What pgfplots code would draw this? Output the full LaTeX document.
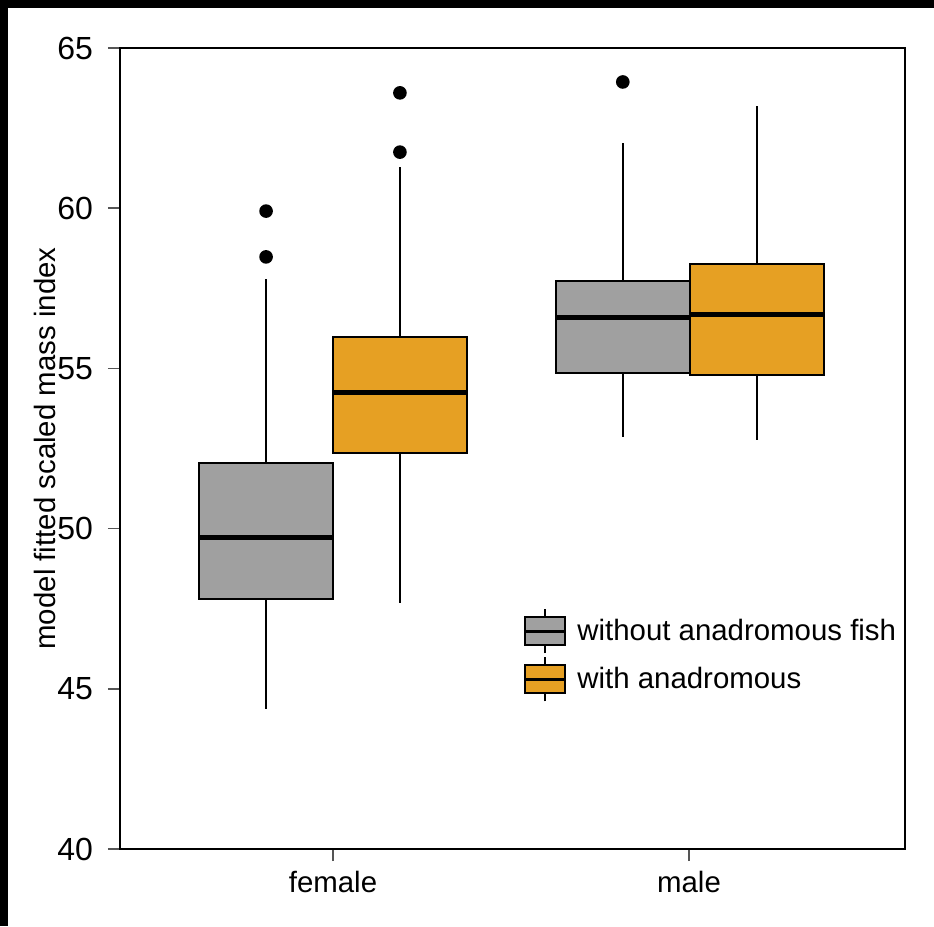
\documentclass[border=0pt]{standalone}
\usepackage{fontspec}
\setmainfont{Liberation Sans}
\usepackage{pgfplots}
\usepgfplotslibrary{statistics}
\pgfplotsset{compat=1.18}
\definecolor{graybox}{HTML}{A0A0A0}
\definecolor{orangebox}{HTML}{E6A023}
\definecolor{tickgray}{HTML}{555555}
\newcommand{\lbl}{\fontsize{14.7}{17}\selectfont}
\newcommand{\tlbl}{\fontsize{16}{18}\selectfont}
\begin{document}
\begin{tikzpicture}
\begin{axis}[
  scale only axis, width=392.5pt, height=400.5pt,
  xmin=0.4017, xmax=2.6067, ymin=40, ymax=65,
  xtick={1,2}, xticklabels={female,male},
  ytick={40,45,50,55,60,65},
  xtick pos=left, ytick pos=left,
  tick align=outside, major tick length=6pt,
  tick style={tickgray, line width=0.8pt},
  axis line style={line width=1pt},
  /pgf/number format/assume math mode=true,
  xticklabel style={font=\lbl, yshift=-1.5pt},
  yticklabel style={font=\tlbl, xshift=-4pt},
  ylabel={model fitted scaled mass index},
  ylabel style={font=\lbl, at={(axis description cs:-0.0955,0.5)}, anchor=center},
  clip=false,
  boxplot/draw direction=y,
  boxplot/every median/.style={line width=2.5pt},
  legend style={at={(0.5134,0.3008)}, anchor=north west, draw=none, fill=none,
    font=\lbl, inner sep=0pt, row sep=1pt, column sep=4.5pt, nodes={inner sep=1pt}},
  legend cell align=left,
  legend image code/.code={
    \draw[black, line width=1pt] (10pt,7pt)--(10pt,11pt) (10pt,-7pt)--(10pt,-11pt);
    \draw[#1, line width=1pt] (0pt,-7pt) rectangle (20pt,7pt);
    \draw[black, line width=1.5pt] (0pt,0pt) -- (20pt,0pt);
  },
]
% female, without
\addplot[forget plot, boxplot prepared={draw position=0.812, lower whisker=44.37, lower quartile=47.80,
  median=49.71, upper quartile=52.05, upper whisker=57.79, box extend=0.376, whisker extend=0},
  draw=black, fill=graybox, line width=1pt, mark=*, mark size=2.9pt, mark options={draw=black, fill=black}]
  coordinates {(0,59.91) (0,58.48)};
% female, with
\addplot[forget plot, boxplot prepared={draw position=1.188, lower whisker=47.68, lower quartile=52.36,
  median=54.26, upper quartile=55.98, upper whisker=61.29, box extend=0.376, whisker extend=0},
  draw=black, fill=orangebox, line width=1pt, mark=*, mark size=2.9pt, mark options={draw=black, fill=black}]
  coordinates {(0,63.60) (0,61.75)};
% male, without
\addplot[forget plot, boxplot prepared={draw position=1.814, lower whisker=52.86, lower quartile=54.86,
  median=56.60, upper quartile=57.73, upper whisker=62.03, box extend=0.376, whisker extend=0},
  draw=black, fill=graybox, line width=1pt, mark=*, mark size=2.9pt, mark options={draw=black, fill=black}]
  coordinates {(0,63.94)};
% male, with
\addplot[forget plot, boxplot prepared={draw position=2.190, lower whisker=52.77, lower quartile=54.79,
  median=56.67, upper quartile=58.26, upper whisker=63.19, box extend=0.376, whisker extend=0},
  draw=black, fill=orangebox, line width=1pt]
  coordinates {};
\addlegendimage{draw=black, fill=graybox}
\addlegendentry{without anadromous fish}
\addlegendimage{draw=black, fill=orangebox}
\addlegendentry{with anadromous}
\path (axis description cs:-0.15287,-0.09613) rectangle (axis description cs:1.03694,1.05993);
\fill[black] (axis description cs:-0.15287,1.04994) rectangle (axis description cs:1.03694,1.05993);
\fill[black] (axis description cs:-0.15287,-0.09613) rectangle (axis description cs:-0.14268,1.05993);
\end{axis}
\end{tikzpicture}
\end{document}
